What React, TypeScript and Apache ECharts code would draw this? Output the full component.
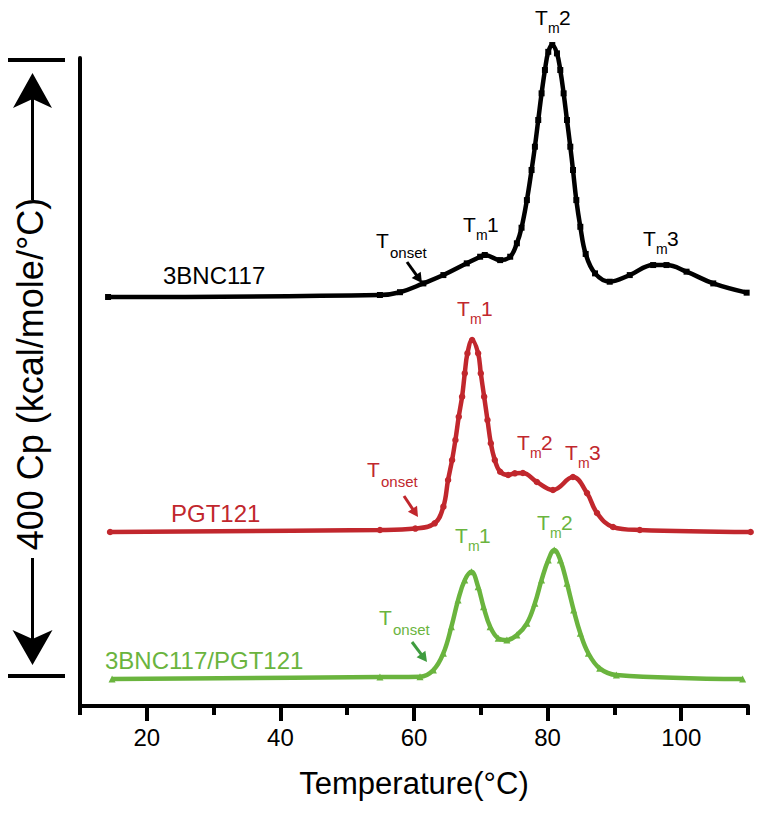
import React, { useEffect, useRef } from "react";
import * as echarts from "echarts";

// ---- data (Temperature °C, Cp offset-stacked units) ----
const tempTicks = ["10", "20", "30", "40", "50", "60", "70", "80", "90", "100", "110"];

const curve3BNC117: [number, number][] = [
  [14.2, 265.1], [54.9, 266.4], [57.9, 268.2], [61.4, 273.9], [64.4, 279.3], [67.9, 286.9],
  [69.9, 291.2], [70.6, 292.3], [72.9, 289.0], [74.4, 291.2], [75.4, 299.9], [76.1, 310.0],
  [76.9, 327.9], [77.6, 347.4], [78.1, 362.5], [78.6, 379.8], [79.1, 397.1], [79.6, 412.2],
  [80.1, 424.0], [80.7, 428.4], [81.4, 423.0], [81.9, 412.2], [82.4, 397.1], [82.9, 379.8],
  [83.4, 362.5], [83.8, 347.4], [84.3, 327.9], [84.9, 310.6], [85.7, 293.0], [87.1, 280.4],
  [89.3, 275.0], [92.3, 279.3], [95.8, 285.8], [97.8, 285.8], [100.8, 281.5], [104.8, 273.9],
  [109.8, 267.9],
];

const curvePGT121: [number, number][] = [
  [14.5, 112.8], [54.9, 114.1], [60.2, 115.0], [63.1, 118.4], [64.4, 129.2], [65.1, 146.5],
  [65.7, 159.4], [66.2, 172.4], [66.7, 187.5], [67.2, 200.5], [67.6, 215.6], [68.0, 228.6],
  [68.7, 237.2], [69.6, 228.6], [70.0, 215.6], [70.5, 200.5], [71.0, 185.4], [71.5, 170.3],
  [72.1, 159.4], [72.9, 151.8], [74.1, 149.7], [75.1, 150.8], [76.3, 151.0], [78.4, 145.2],
  [80.8, 140.0], [83.8, 148.4], [85.9, 138.0], [87.4, 125.1], [89.8, 116.0], [93.8, 114.1],
  [110.4, 112.8],
];

const curveCombo: [number, number][] = [
  [14.8, 17.5], [54.9, 18.8], [60.9, 19.0], [62.9, 23.3], [64.4, 34.2], [65.6, 51.4],
  [66.6, 68.7], [67.6, 81.6], [68.6, 87.0], [69.6, 77.3], [70.4, 64.4], [71.4, 51.4],
  [72.6, 43.9], [73.9, 42.8], [75.4, 46.0], [76.9, 53.6], [78.1, 66.6], [79.1, 81.7],
  [80.1, 94.6], [81.0, 101.1], [81.9, 94.6], [82.9, 79.5], [83.9, 62.2], [84.9, 47.1],
  [86.1, 34.2], [87.8, 24.4], [90.3, 20.1], [109.2, 17.5],
];

const BLACK = "#000000";
const RED = "#c1272d";
const GREEN = "#6ab43e";
const GREEN_ARROW = "#3f9c3f";
const FONT = "'Liberation Sans', Arial, Helvetica, sans-serif";

function txt(x: number, y: number, text: string, size: number, color: string, align = "left", extra: any = {}) {
  return {
    type: "text",
    x,
    y,
    z: 20,
    ...extra,
    style: {
      text,
      fontSize: size,
      fontFamily: FONT,
      fill: color,
      textAlign: align,
      align,
      textVerticalAlign: "middle",
      verticalAlign: "middle",
    },
  };
}

function tm(x: number, y: number, num: string, color: string) {
  return [
    txt(x, y, "T", 21, color),
    txt(x + 13, y + 11, "m", 14, color),
    txt(x + 24, y, num, 21, color),
  ];
}

function tonset(x: number, y: number, color: string) {
  return [txt(x, y, "T", 21, color), txt(x + 14, y + 12, "onset", 15, color)];
}

function arrow(x1: number, y1: number, x2: number, y2: number, color: string) {
  const dx = x2 - x1;
  const dy = y2 - y1;
  const L = Math.hypot(dx, dy);
  const ux = dx / L;
  const uy = dy / L;
  const hl = 10;
  const hw = 5.5;
  const bx = x2 - ux * hl;
  const by = y2 - uy * hl;
  return [
    { type: "line", z: 20, shape: { x1, y1, x2: bx + ux * 2, y2: by + uy * 2 }, style: { stroke: color, lineWidth: 3 } },
    {
      type: "polygon",
      z: 20,
      shape: { points: [[x2, y2], [bx - uy * hw, by + ux * hw], [bx + uy * hw, by - ux * hw]] },
      style: { fill: color },
    },
  ];
}

export default function App() {
  const ref = useRef<HTMLDivElement>(null);

  useEffect(() => {
    if (!ref.current) return;
    const chart = echarts.init(ref.current, null, { renderer: "svg" });

    const seriesBase = (name: string, data: [number, number][], color: string, symbol: string, size: number) => ({
      name,
      type: "line",
      data,
      xAxisIndex: 0,
      yAxisIndex: 0,
      smooth: 0.4,
      symbol,
      symbolSize: size,
      showSymbol: true,
      clip: false,
      lineStyle: { color, width: 4.5 },
      itemStyle: { color },
      emphasis: { disabled: true },
    });

    const graphic: any[] = [
      // scale bar
      { type: "line", shape: { x1: 8, y1: 60, x2: 65, y2: 60 }, style: { stroke: BLACK, lineWidth: 4 } },
      { type: "line", shape: { x1: 8, y1: 676, x2: 65, y2: 676 }, style: { stroke: BLACK, lineWidth: 4 } },
      { type: "line", shape: { x1: 32.5, y1: 98, x2: 32.5, y2: 200 }, style: { stroke: BLACK, lineWidth: 3 } },
      { type: "line", shape: { x1: 32.5, y1: 558, x2: 32.5, y2: 640 }, style: { stroke: BLACK, lineWidth: 3 } },
      {
        type: "polygon",
        shape: { points: [[32.5, 73], [13, 108], [32.5, 99], [52, 108]] },
        style: { fill: BLACK },
      },
      {
        type: "polygon",
        shape: { points: [[32.5, 665], [12.5, 630], [32.5, 639], [52.5, 630]] },
        style: { fill: BLACK },
      },
      txt(30, 374, "400 Cp (kcal/mole/°C)", 36, BLACK, "center", { rotation: Math.PI / 2 }),
      // series names
      txt(163, 275, "3BNC117", 24, BLACK),
      txt(171, 513, "PGT121", 24, RED),
      txt(105, 660, "3BNC117/PGT121", 24, GREEN),
      // peak labels
      ...tm(463, 224, "1", BLACK),
      ...tm(535, 17, "2", BLACK),
      ...tm(643, 238, "3", BLACK),
      ...tm(457, 308, "1", RED),
      ...tm(517, 442, "2", RED),
      ...tm(565, 452, "3", RED),
      ...tm(455, 535, "1", GREEN),
      ...tm(537, 522, "2", GREEN),
      // onset labels
      ...tonset(376, 240, BLACK),
      ...tonset(367, 469, RED),
      ...tonset(379, 617, GREEN),
      ...arrow(407, 262, 422, 283, BLACK),
      ...arrow(404, 496, 418, 517, RED),
      ...arrow(412, 642, 427, 662, GREEN_ARROW),
    ];

    chart.setOption({
      animation: false,
      backgroundColor: "#ffffff",
      grid: { left: 80, right: 15, top: 58, bottom: 107, containLabel: false },
      xAxis: [
        {
          type: "value",
          min: 10,
          max: 110,
          interval: 10,
          position: "bottom",
          axisLine: { show: true, lineStyle: { color: BLACK, width: 4 } },
          axisTick: { show: true, length: 9, lineStyle: { color: BLACK, width: 4 } },
          axisLabel: { show: false },
          splitLine: { show: false },
          name: "Temperature(°C)",
          nameLocation: "middle",
          nameGap: 62,
          nameTextStyle: { fontSize: 31, color: BLACK, fontFamily: FONT, verticalAlign: "top" },
        },
        {
          type: "category",
          data: tempTicks,
          boundaryGap: false,
          position: "bottom",
          axisLine: { show: false },
          axisTick: {
            show: true,
            length: 15,
            interval: (i: number) => i % 2 === 1,
            lineStyle: { color: BLACK, width: 4 },
          },
          axisLabel: {
            show: true,
            interval: (i: number) => i % 2 === 1,
            fontSize: 24,
            color: BLACK,
            fontFamily: FONT,
            margin: 19,
          },
          splitLine: { show: false },
        },
      ],
      yAxis: {
        type: "value",
        min: 0,
        max: 420,
        axisLine: { show: true, lineStyle: { color: BLACK, width: 4 } },
        axisTick: { show: false },
        axisLabel: { show: false },
        splitLine: { show: false },
      },
      series: [
        seriesBase("3BNC117", curve3BNC117, BLACK, "rect", 6),
        seriesBase("PGT121", curvePGT121, RED, "circle", 6.5),
        seriesBase("3BNC117/PGT121", curveCombo, GREEN, "triangle", 7),
      ],
      graphic,
    });

    return () => chart.dispose();
  }, []);

  return <div ref={ref} style={{ width: 763, height: 813, position: "absolute", left: 0, top: 0 }} />;
}
